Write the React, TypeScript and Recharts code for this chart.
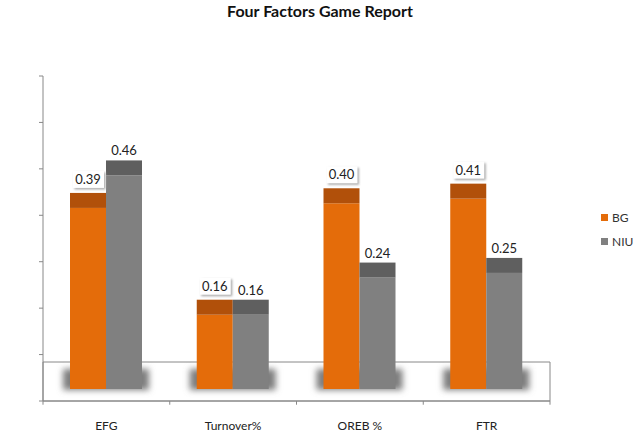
import React from 'react';
import { BarChart, Bar, XAxis, YAxis, Legend, LabelList, ReferenceArea, ReferenceLine } from 'recharts';

const categories = ['EFG', 'Turnover%', 'OREB %', 'FTR'];
const bgValues = [0.39, 0.16, 0.40, 0.41];
const niuValues = [0.46, 0.16, 0.24, 0.25];
const yTicks = [0, 0.1, 0.2, 0.3, 0.4, 0.5, 0.6, 0.7];
const floorDepth = 0.084;

const data = categories.map((name, i) => ({ name, BG: bgValues[i], NIU: niuValues[i] }));

const FONT = 'Lato, "Liberation Sans", sans-serif';
const ORANGE = '#E46C0A';
const ORANGE_TOP = '#B1500A';
const GRAY = '#808080';
const GRAY_TOP = '#5F5F5F';
const AXIS = '#888888';
const LIFT = 12;
const TOPFACE = 15;

const makeShape = (front: string, top: string, withShadow: boolean) => (props: any) => {
  const { x, y, width, height, index } = props;
  const fy = y - LIFT;
  const bottom = y + height - LIFT;
  const fid = `shadow-${index}`;
  return (
    <g>
      {withShadow && (
        <g>
          <defs>
            <filter id={fid} x="-30%" y="-100%" width="160%" height="300%">
              <feGaussianBlur stdDeviation="3" />
            </filter>
          </defs>
          <rect x={x - 7} y={bottom - 20} width={width * 2 + 14} height={21} fill="#7d7d7d" filter={`url(#${fid})`} />
        </g>
      )}
      <rect x={x} y={fy} width={width} height={bottom - fy} fill={front} />
      <rect x={x} y={fy - TOPFACE} width={width} height={TOPFACE} fill={top} />
    </g>
  );
};

const BgLabel = (props: any) => {
  const { x, y, width, value, index } = props;
  const cx = x + width / 2;
  const topY = y - LIFT - TOPFACE;
  const bx = cx - 15;
  const by = topY - 22;
  const fid = `lblshadow-${index}`;
  return (
    <g>
      <defs>
        <filter id={fid} x="-30%" y="-30%" width="160%" height="160%">
          <feGaussianBlur stdDeviation="1.2" />
        </filter>
      </defs>
      <rect x={bx + 1.5} y={by + 1.5} width={31} height={17} fill="#aaa" filter={`url(#${fid})`} />
      <rect x={bx} y={by} width={31} height={17} fill="#ffffff" />
      <text x={cx} y={by + 13} textAnchor="middle" fontSize={13} fontFamily={FONT} fill="#222">
        {Number(value).toFixed(2)}
      </text>
    </g>
  );
};

const NiuLabel = (props: any) => {
  const { x, y, width, value } = props;
  const cx = x + width / 2;
  const topY = y - LIFT - TOPFACE;
  return (
    <text x={cx} y={topY - 5} textAnchor="middle" fontSize={13} fontFamily={FONT} fill="#222">
      {Number(value).toFixed(2)}
    </text>
  );
};

const LegendContent = (props: any) => {
  const { payload } = props;
  return (
    <div style={{ fontFamily: FONT, fontSize: 12, color: '#333', width: 40 }}>
      {(payload || []).map((p: any) => (
        <div key={p.value} style={{ display: 'flex', alignItems: 'center', height: 24 }}>
          <span style={{ display: 'inline-block', width: 7, height: 7, background: p.color, marginRight: 4 }} />
          <span>{p.value}</span>
        </div>
      ))}
    </div>
  );
};

export default function App() {
  return (
    <div style={{ position: 'absolute', left: 0, top: 0, width: 640, height: 432, background: '#fff' }}>
      <div
        style={{
          position: 'absolute',
          left: 0,
          top: 1,
          width: 640,
          textAlign: 'center',
          fontFamily: FONT,
          fontWeight: 'bold',
          fontSize: 16,
          color: '#111',
        }}
      >
        Four Factors Game Report
      </div>
      <BarChart
        width={640}
        height={432}
        data={data}
        margin={{ top: 76, right: 50, bottom: 0, left: 42 }}
        barGap={0}
        barSize={36}
      >
        <XAxis
          dataKey="name"
          height={31}
          axisLine={{ stroke: AXIS }}
          tickLine={false}
          tickMargin={14}
          tick={{ fontSize: 12, fontFamily: FONT, fill: '#222' }}
        />
        <YAxis
          width={1}
          domain={[0, 0.7]}
          ticks={yTicks}
          allowDataOverflow
          axisLine={{ stroke: AXIS }}
          tickLine={{ stroke: AXIS }}
          tickSize={4}
          tick={() => <g />}
        />
        <ReferenceArea y1={0} y2={floorDepth} fill="none" stroke={AXIS} ifOverflow="visible" />
        {categories.map((c) => (
          <ReferenceLine
            key={c}
            position="start"
            segment={[{ x: c, y: 0 }, { x: c, y: -0.008 }]}
            stroke={AXIS}
            ifOverflow="visible"
          />
        ))}
        <ReferenceLine
          position="end"
          segment={[{ x: categories[categories.length - 1], y: 0 }, { x: categories[categories.length - 1], y: -0.008 }]}
          stroke={AXIS}
          ifOverflow="visible"
        />
        <Bar dataKey="BG" name="BG" fill={ORANGE} isAnimationActive={false} shape={makeShape(ORANGE, ORANGE_TOP, true)}>
          <LabelList dataKey="BG" content={BgLabel} />
        </Bar>
        <Bar dataKey="NIU" name="NIU" fill={GRAY} isAnimationActive={false} shape={makeShape(GRAY, GRAY_TOP, false)}>
          <LabelList dataKey="NIU" content={NiuLabel} />
        </Bar>
        <Legend
          content={LegendContent}
          layout="vertical"
          align="right"
          verticalAlign="middle"
          wrapperStyle={{ position: 'absolute', left: 601, top: 205, width: 40 }}
        />
      </BarChart>
    </div>
  );
}
